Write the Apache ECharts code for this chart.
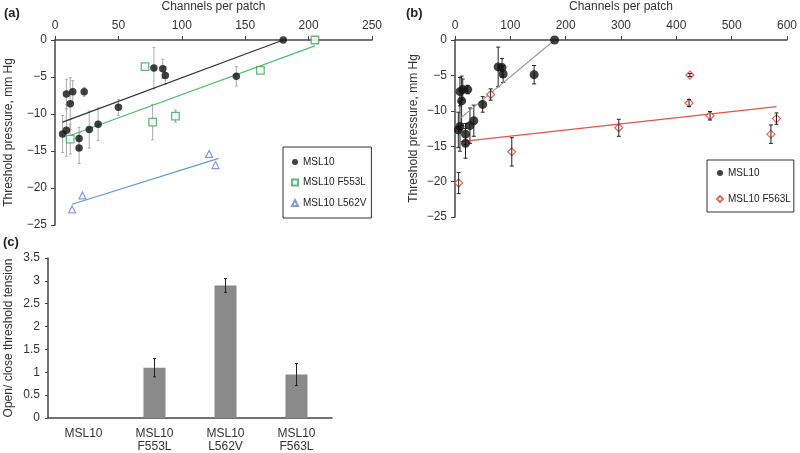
<!DOCTYPE html>
<html><head><meta charset="utf-8">
<script src="https://cdn.jsdelivr.net/npm/echarts@6/dist/echarts.min.js"></script>
<style>html,body{margin:0;padding:0;background:#fff}#c{width:800px;height:453px}</style>
</head><body><div id="c"></div>
<script>
// ---- Panel (a) & (b): MSL10 ----
const msl10X = [6, 9, 9, 12, 14, 19, 19, 23, 27, 34, 50, 78, 85, 87, 143, 180];
const msl10Y = [-12.7, -12.2, -7.3, -8.6, -7.0, -13.3, -14.6, -7.0, -12.1, -11.4, -9.1, -3.8, -3.9, -4.8, -4.9, 0];
const msl10Err = [2.5, 3.5, 2.0, 3.5, 1.5, 1.5, 2.1, 0.6, 2.5, 2.2, 1.1, 2.8, 1.3, 1.2, 1.3, 0];
// ---- Panel (a): F553L ----
const f553lX = [12, 71, 77, 95, 162, 205];
const f553lY = [-13.4, -3.6, -11.1, -10.3, -4.1, 0];
const f553lErr = [2.0, 0, 2.4, 0.8, 0, 0];
// ---- Panel (a): L562V ----
const l562vX = [13.5, 21.7, 121.6, 126.6];
const l562vY = [-22.9, -21.0, -15.4, -16.9];
// ---- Panel (b): F563L ----
const f563lX = [6.6, 64.4, 102.6, 296, 423, 424.5, 461, 571, 581];
const f563lY = [-20.2, -7.7, -15.8, -12.4, -8.9, -4.95, -10.7, -13.3, -11.1];
const f563lErr = [1.5, 0.8, 2.0, 1.2, 0.5, 0.2, 0.6, 1.3, 0.8];
// ---- Trendlines (endpoints) ----
const trendA_MSL10 = [[6, -11.1], [180, 0]];
const trendA_F553L = [[12, -12.9], [205, -0.8]];
const trendA_L562V = [[13.5, -22.2], [129, -16.0]];
const trendB_MSL10 = [[9, -11.1], [180, 0]];
const trendB_F563L = [[6.6, -14.4], [581, -9.4]];
// ---- Panel (c) ----
const barCats = ['MSL10', 'MSL10\nF553L', 'MSL10\nL562V', 'MSL10\nF563L'];
const barVals = [null, 1.1, 2.9, 0.95];
const barErr = [0, 0.2, 0.15, 0.24];
// ---- Axis ticks ----
const axAX = {min: 0, max: 250, interval: 50};
const axBX = {min: 0, max: 600, interval: 100};
const axPY = {min: -25, max: 0, interval: 5};
const axCY = {min: 0, max: 3.5, interval: 0.5};

const FONT = 'Liberation Sans, Arial, sans-serif';
const pts = (xs, ys) => xs.map((x, i) => [x, ys[i]]);
const errs = (xs, ys, es) => xs.map((x, i) => [x, ys[i] - es[i], ys[i] + es[i]]).filter((d, i) => es[i] > 0);
const minus = v => (v < 0 ? '\u2212' + Math.abs(v) : String(v));

function errRender(cap, color, lw) {
  return function (params, api) {
    const x = api.value(0), lo = api.value(1), hi = api.value(2);
    const a = api.coord([x, lo]), b = api.coord([x, hi]);
    const st = {stroke: color, lineWidth: lw};
    return {type: 'group', children: [
      {type: 'line', shape: {x1: a[0], y1: a[1], x2: b[0], y2: b[1]}, style: st},
      {type: 'line', shape: {x1: a[0] - cap, y1: a[1], x2: a[0] + cap, y2: a[1]}, style: st},
      {type: 'line', shape: {x1: b[0] - cap, y1: b[1], x2: b[0] + cap, y2: b[1]}, style: st}
    ]};
  };
}

const axisLine = {show: true, onZero: false, lineStyle: {color: '#444', width: 1.5}};
const axisLabel = {color: '#333', fontSize: 12, fontFamily: FONT};
const nameStyle = {color: '#333', fontSize: 12, fontFamily: FONT};

const option = {
  animation: false,
  backgroundColor: '#fff',
  textStyle: {fontFamily: FONT},
  title: [
    {text: '(a)', left: 4, top: 7, padding: 0, textStyle: {fontSize: 13, fontWeight: 'bold', color: '#222', fontFamily: FONT}},
    {text: '(b)', left: 406, top: 7, padding: 0, textStyle: {fontSize: 13, fontWeight: 'bold', color: '#222', fontFamily: FONT}},
    {text: '(c)', left: 3, top: 236, padding: 0, textStyle: {fontSize: 13, fontWeight: 'bold', color: '#222', fontFamily: FONT}}
  ],
  grid: [
    {left: 55, top: 40, width: 317, height: 185},
    {left: 455, top: 39, width: 336, height: 178},
    {left: 48, top: 258, width: 284, height: 164}
  ],
  xAxis: [
    Object.assign({gridIndex: 0, type: 'value', position: 'top', name: 'Channels per patch', nameLocation: 'middle', nameGap: 27,
      nameTextStyle: nameStyle, axisLine, axisTick: {show: true, length: 4, lineStyle: {color: '#444'}}, axisLabel, splitLine: {show: false}}, axAX),
    Object.assign({gridIndex: 1, type: 'value', position: 'top', name: 'Channels per patch', nameLocation: 'middle', nameGap: 27,
      nameTextStyle: nameStyle, axisLine, axisTick: {show: true, length: 4, lineStyle: {color: '#444'}}, axisLabel, splitLine: {show: false}}, axBX),
    {gridIndex: 2, type: 'category', data: barCats, axisLine, axisTick: {show: false},
      axisLabel: {color: '#333', fontSize: 12, fontFamily: FONT, lineHeight: 13, margin: 9, interval: 0}}
  ],
  yAxis: [
    Object.assign({gridIndex: 0, type: 'value', name: 'Threshold pressure, mm Hg', nameLocation: 'middle', nameGap: 40,
      nameTextStyle: nameStyle, axisLine, axisTick: {show: true, length: 4, lineStyle: {color: '#444'}},
      axisLabel: Object.assign({formatter: minus}, axisLabel), splitLine: {show: false}}, axPY),
    Object.assign({gridIndex: 1, type: 'value', name: 'Threshold pressure, mm Hg', nameLocation: 'middle', nameGap: 35,
      nameTextStyle: nameStyle, axisLine, axisTick: {show: true, length: 4, lineStyle: {color: '#444'}},
      axisLabel: Object.assign({formatter: minus}, axisLabel), splitLine: {show: false}}, axPY),
    Object.assign({gridIndex: 2, type: 'value', name: 'Open/ close threshold tension', nameLocation: 'middle', nameGap: 33,
      nameTextStyle: nameStyle, axisLine, axisTick: {show: true, length: 3, lineStyle: {color: '#444'}},
      axisLabel, splitLine: {show: false}}, axCY)
  ],
  legend: [
    {left: 283, top: 147, orient: 'vertical', data: ['MSL10', 'MSL10 F553L', 'MSL10 L562V'],
      borderColor: '#333', borderWidth: 1, padding: [10, 5, 10, 8], itemGap: 10.5, itemWidth: 6, itemHeight: 6,
      textStyle: {fontSize: 10, color: '#222', fontFamily: FONT}},
    {left: 707, top: 160, orient: 'vertical', data: ['MSL10', 'MSL10 F563L'],
      borderColor: '#333', borderWidth: 1, padding: [8, 3, 8, 9], itemGap: 16, itemWidth: 6, itemHeight: 6,
      textStyle: {fontSize: 10, color: '#222', fontFamily: FONT}}
  ],
  series: [
    // Panel (a)
    {type: 'custom', xAxisIndex: 0, yAxisIndex: 0, z: 1, silent: true, renderItem: errRender(1.5, '#aaa', 1), data: errs(msl10X, msl10Y, msl10Err), encode: {x: 0, y: [1, 2]}},
    {type: 'custom', xAxisIndex: 0, yAxisIndex: 0, z: 1, silent: true, renderItem: errRender(1.5, '#aaa', 1), data: errs(f553lX, f553lY, f553lErr), encode: {x: 0, y: [1, 2]}},
    {type: 'line', name: 'tA1', xAxisIndex: 0, yAxisIndex: 0, data: trendA_MSL10, symbol: 'none', lineStyle: {color: '#333', width: 1.2}, z: 2},
    {type: 'line', name: 'tA2', xAxisIndex: 0, yAxisIndex: 0, data: trendA_F553L, symbol: 'none', lineStyle: {color: '#4cbf72', width: 1.2}, z: 2},
    {type: 'line', name: 'tA3', xAxisIndex: 0, yAxisIndex: 0, data: trendA_L562V, symbol: 'none', lineStyle: {color: '#5b9bd5', width: 1.2}, z: 2},
    {type: 'scatter', name: 'MSL10', xAxisIndex: 0, yAxisIndex: 0, data: pts(msl10X, msl10Y), symbol: 'circle', symbolSize: 7.5, itemStyle: {color: '#111'}, z: 4},
    {type: 'scatter', name: 'MSL10 F553L', xAxisIndex: 0, yAxisIndex: 0, data: pts(f553lX, f553lY), symbol: 'rect', symbolSize: 7.5, itemStyle: {color: '#fff', borderColor: '#3aa85a', borderWidth: 1.3}, z: 4},
    {type: 'scatter', name: 'MSL10 L562V', xAxisIndex: 0, yAxisIndex: 0, data: pts(l562vX, l562vY), symbol: 'triangle', symbolSize: 7, itemStyle: {color: '#fff', borderColor: '#6a82d0', borderWidth: 1.2}, z: 4},
    // Panel (b)
    {type: 'custom', xAxisIndex: 1, yAxisIndex: 1, z: 1, silent: true, renderItem: errRender(2, '#222', 1), data: errs(msl10X, msl10Y, msl10Err), encode: {x: 0, y: [1, 2]}},
    {type: 'custom', xAxisIndex: 1, yAxisIndex: 1, z: 5, silent: true, renderItem: errRender(2, '#222', 1), data: errs(f563lX, f563lY, f563lErr), encode: {x: 0, y: [1, 2]}},
    {type: 'line', name: 'tB1', xAxisIndex: 1, yAxisIndex: 1, data: trendB_MSL10, symbol: 'none', lineStyle: {color: '#999', width: 1.2}, z: 2},
    {type: 'line', name: 'tB2', xAxisIndex: 1, yAxisIndex: 1, data: trendB_F563L, symbol: 'none', lineStyle: {color: '#e8504a', width: 1.3}, z: 2},
    {type: 'scatter', name: 'MSL10', xAxisIndex: 1, yAxisIndex: 1, data: pts(msl10X, msl10Y), symbol: 'circle', symbolSize: 9, itemStyle: {color: '#111'}, z: 4},
    {type: 'scatter', name: 'MSL10 F563L', xAxisIndex: 1, yAxisIndex: 1, data: pts(f563lX, f563lY), symbol: 'diamond', symbolSize: 8, itemStyle: {color: '#fff', borderColor: '#d9463f', borderWidth: 1.3}, z: 4},
    // Panel (c)
    {type: 'bar', name: 'ratio', xAxisIndex: 2, yAxisIndex: 2, data: barVals, barWidth: 22, itemStyle: {color: '#8a8a8a'}, z: 2},
    {type: 'custom', xAxisIndex: 2, yAxisIndex: 2, z: 5, silent: true, renderItem: errRender(1.5, '#222', 1),
      data: barVals.map((v, i) => [i, v - barErr[i], v + barErr[i]]).filter((d, i) => barVals[i] != null && barErr[i] > 0), encode: {x: 0, y: [1, 2]}}
  ]
};
const chart = echarts.init(document.getElementById('c'), null, {renderer: 'canvas'});
chart.setOption(option);
</script></body></html>
